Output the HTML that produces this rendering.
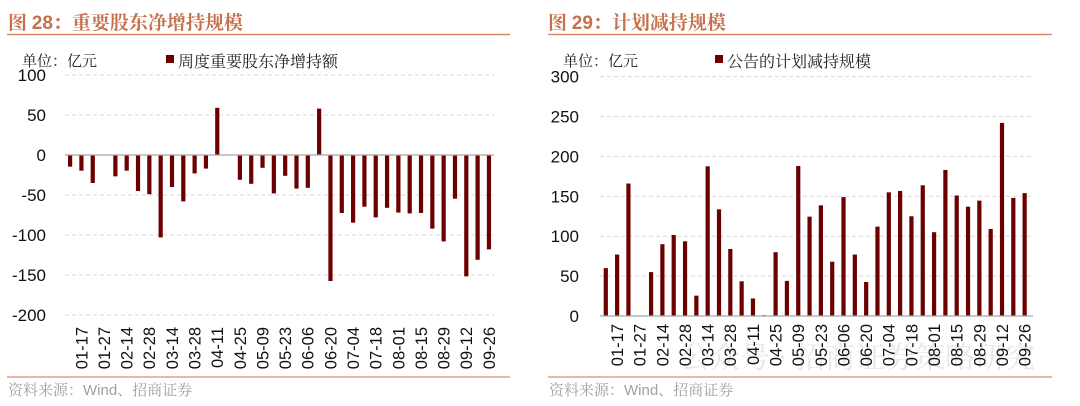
<!DOCTYPE html>
<html><head><meta charset="utf-8"><style>
html,body{margin:0;padding:0;background:#fff;}
svg{display:block;}
.t{font-family:"Noto Serif CJK SC","Liberation Serif",serif;}
.n{font-family:"Liberation Sans",sans-serif;}
</style></head><body>
<svg id="s" width="1080" height="406" xmlns="http://www.w3.org/2000/svg">
<g class="t">
<text x="8" y="29" font-size="19" fill="#c6714c" font-weight="bold">图 <tspan class="n">28</tspan>：重要股东净增持规模</text>
<line x1="7" y1="34.5" x2="510" y2="34.5" stroke="#d98a66" stroke-width="1.5"/>
<text x="548" y="29" font-size="19" fill="#c6714c" font-weight="bold">图 <tspan class="n">29</tspan>：计划减持规模</text>
<line x1="548" y1="34.5" x2="1052" y2="34.5" stroke="#d98a66" stroke-width="1.5"/>
<text x="22" y="66" font-size="15" fill="#222">单位：亿元</text>
<rect x="166" y="55" width="8" height="8" fill="#6b0000"/>
<text x="178" y="67" font-size="16" fill="#222">周度重要股东净增持额</text>
<text x="563" y="66" font-size="15" fill="#222">单位：亿元</text>
<rect x="715" y="55" width="8" height="8" fill="#6b0000"/>
<text x="727" y="67" font-size="16" fill="#222">公告的计划减持规模</text>
<line x1="7" y1="377" x2="510" y2="377" stroke="#e08a6a" stroke-width="1.2"/>
<line x1="548" y1="377" x2="1052" y2="377" stroke="#e08a6a" stroke-width="1.2"/>
<text x="8" y="395" font-size="15" fill="#a0a0a0">资料来源：<tspan class="n">Wind</tspan>、招商证券</text>
<text x="549" y="395" font-size="15" fill="#a0a0a0">资料来源：<tspan class="n">Wind</tspan>、招商证券</text>
<text x="680" y="368" font-size="30" fill="#d0d0d0" opacity="0.5">公众号 · 招商证券策略研究</text>
</g>
<g id="L"></g><g id="R"></g>
</svg>
<script>
var NS="http://www.w3.org/2000/svg";
function el(p,t,a,txt){var e=document.createElementNS(NS,t);for(var k in a)e.setAttribute(k,a[k]);if(txt!=null)e.textContent=txt;p.appendChild(e);return e;}
var labels=["01-17","01-27","02-14","02-28","03-14","03-28","04-11","04-25","05-09","05-23","06-06","06-20","07-04","07-18","08-01","08-15","08-29","09-12","09-26"];
var Lv=[-14.6,-19.6,-35,0,-26.7,-19.6,-45,-49,-103,-40,-58,-23,-17,59,0,-31,-36,-16,-48,-26,-42,-41,58,-157.5,-72.5,-84.6,-64.6,-78,-66,-72,-73,-72.5,-92,-108,-54.6,-151.7,-131,-118];
var Rv=[60,77,166,0,55,90,101.5,93.6,25.5,187.6,133.7,84,43.5,22,1,80,44,188,124.5,138.7,68,149,77,42.6,112,155,156.7,125,163.8,105,183,151,137,144.6,109,242,148,154];
function chart(g,x0,x1,ylab,ticks,yof,x0slot,vals,zeroY,labTop){
 ticks.forEach(function(t){var y=yof(t);
  if(t!==0||zeroY==null) el(g,"line",{x1:x0,x2:x1,y1:y,y2:y,stroke:"#d9d9d9","stroke-dasharray":"4,3","stroke-width":1});
  el(g,"text",{x:ylab,y:y+6,"font-size":17,"text-anchor":"end",fill:"#111","class":"n"},String(t));});
 vals.forEach(function(v,i){if(v===0)return;var cx=x0slot+i*11.32;var y0=yof(0),y=yof(v);
  el(g,"rect",{x:cx-2,y:Math.min(y0,y),width:4.2,height:Math.abs(y-y0),fill:"#6b0000"});});
 el(g,"line",{x1:x0,x2:x1,y1:yof(0),y2:yof(0),stroke:"#a6a6a6","stroke-width":1.2});
 labels.forEach(function(l,j){var cx=x0slot+(2*j+1)*11.32+6;
  el(g,"text",{transform:"translate("+cx+","+labTop+") rotate(-90)","font-size":16.5,"text-anchor":"end",fill:"#111","class":"n"},l);});
}
chart(document.getElementById("L"),65,494,46,[100,50,0,-50,-100,-150,-200],function(v){return 155-v*0.8;},70,Lv,1,327);
chart(document.getElementById("R"),600,1033,579,[300,250,200,150,100,50,0],function(v){return 316-v*0.798;},605.7,Rv,null,324);
</script>
</body></html>
